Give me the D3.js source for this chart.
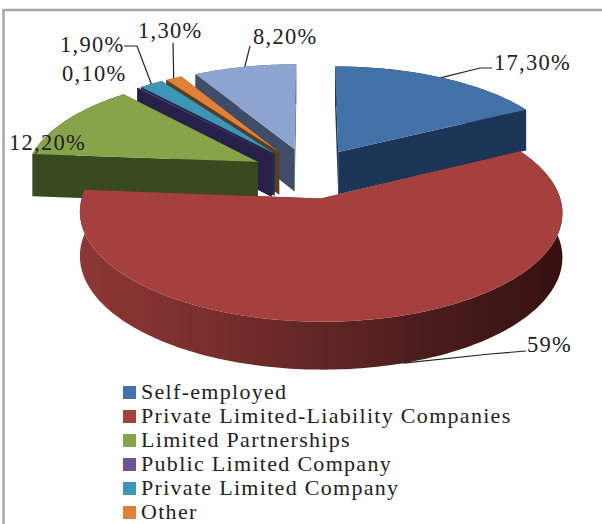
<!DOCTYPE html>
<html>
<head>
<meta charset="utf-8">
<script src="https://cdn.jsdelivr.net/npm/d3@7/dist/d3.min.js"></script>
<style>
html,body{margin:0;padding:0;background:#fff}
svg{display:block}
text{font-family:"Liberation Serif","Times New Roman",serif;fill:#222}
</style>
</head>
<body>
<svg id="chart" width="602" height="524"></svg>
<script>
// Legal forms of enterprises, share in percent
const legendNames = ["Self-employed","Private Limited-Liability Companies","Limited Partnerships","Public Limited Company","Private Limited Company","Other"];
const shares = [17.3, 59, 12.2, 0.1, 1.9, 1.3, 8.2];
const valueLabels = ["17,30%","59%","12,20%","0,10%","1,90%","1,30%","8,20%"];
const topColors = ["#4272a8","#a5403e","#87a44b","#6f5296","#3d96b5","#e0813a","#8ca4cf"];
const wallColors = ["#1d3658","#6e2a29","#3a4a20","#282048","#1f2c4e","#5c3c22","#3f4d68"];

const W = 602, H = 524;
const svg = d3.select("#chart");

// Perspective ground plane for the tilted pie
const view = {cx: 309, cy: 173, rx: 232, ry: 101, k: 0.124, depth: 43, explode: 0.25};
const persp = y => 1 / (1 + view.k * y);
const project = (x, y) => {
  const s = persp(y);
  return [view.cx + view.rx * x * s, view.cy - view.ry * y * s];
};
const drop = ([px, py], y) => [px, py + view.depth * Math.pow(persp(y), 0.65)];

const arcs = d3.pie().sort(null).value(d => d)(shares).map((a, i) => {
  const mid = (a.startAngle + a.endAngle) / 2;
  return {i, a0: a.startAngle, a1: a.endAngle, mid,
          ox: view.explode * Math.sin(mid), oy: view.explode * Math.cos(mid)};
});

const rimPoint = (d, ang) => ({x: d.ox + Math.sin(ang), y: d.oy + Math.cos(ang)});
const rimSamples = d => {
  const n = Math.max(2, Math.ceil((d.a1 - d.a0) / 0.02));
  return d3.range(n + 1).map(j => rimPoint(d, d.a0 + (d.a1 - d.a0) * j / n));
};
const line = d3.line();
const topPts = p => project(p.x, p.y);
const botPts = p => drop(project(p.x, p.y), p.y);
const quad = (p, q) => line([topPts(p), topPts(q), botPts(q), botPts(p)]) + "Z";

// Shaded rim of the big slice, dark towards the right
const defs = svg.append("defs");
const rim = defs.append("linearGradient").attr("id", "rimShade").attr("gradientUnits", "userSpaceOnUse")
  .attr("x1", 80).attr("x2", 560).attr("y1", 0).attr("y2", 0);
[[0, "#8c3734"], [0.28, "#782e2c"], [0.55, "#5c2423"], [0.72, "#4a1d1c"], [1, "#361110"]]
  .forEach(([o, c]) => rim.append("stop").attr("offset", o).attr("stop-color", c));

// Frame on the top and left
svg.append("path").attr("d", line([[3.5, H], [3.5, 10], [W, 10]]))
  .attr("fill", "none").attr("stroke", "#a8a8a8").attr("stroke-width", 2.5);

const paintOrder = [6, 5, 4, 3, 2, 0, 1];
const pie = svg.append("g");
paintOrder.forEach(i => {
  const d = arcs[i];
  const apex = {x: d.ox, y: d.oy};
  const rimPts = rimSamples(d);
  const g = pie.append("g").attr("class", "slice");
  g.append("path").attr("d", quad(apex, rimPts[rimPts.length - 1])).attr("fill", wallColors[i]);
  g.append("path").attr("d", quad(apex, rimPts[0])).attr("fill", wallColors[i]);
  const outer = line(rimPts.map(topPts).concat(rimPts.slice().reverse().map(botPts))) + "Z";
  g.append("path").attr("d", outer).attr("fill", i === 1 ? "url(#rimShade)" : wallColors[i]);
  g.append("path").attr("d", line([topPts(apex)].concat(rimPts.map(topPts))) + "Z").attr("fill", topColors[i]);
});

// Value labels with their leader lines, positioned per slice
const labelLayout = [
  {x: 494, y: 70, elbow: [[480, 68], [492, 68]], at: 0.5},
  {x: 527, y: 352, elbow: [[490, 354], [526, 351]], at: 0.473},
  {x: 9, y: 150},
  {x: 62, y: 81},
  {x: 60, y: 52, elbow: [[137, 46], [124, 46]], at: 0.5},
  {x: 138, y: 38, elbow: [[173, 43]], at: 0.5},
  {x: 253, y: 44, elbow: [[250, 46]], at: 0.5}
];
const labels = svg.append("g");
labelLayout.forEach((l, i) => {
  const d = arcs[i];
  if (l.elbow) {
    const ang = d.a0 + (d.a1 - d.a0) * l.at;
    const p = rimPoint(d, ang);
    const start = i === 1 ? botPts(p) : topPts(p);
    labels.append("path").attr("d", line([start].concat(l.elbow)))
      .attr("fill", "none").attr("stroke", "#222").attr("stroke-width", 1.2);
  }
  labels.append("text").attr("x", l.x).attr("y", l.y)
    .attr("font-size", 22.5).attr("letter-spacing", 1.25).text(valueLabels[i]);
});

// Legend rows, spaced evenly down to the page edge
const legendY = d3.scalePoint().domain(d3.range(legendNames.length)).range([392.5, 512.5]);
const legend = svg.append("g");
legendNames.forEach((name, i) => {
  const y = legendY(i);
  legend.append("rect").attr("x", 123).attr("y", y - 6.5).attr("width", 13).attr("height", 13).attr("fill", topColors[i]);
  legend.append("text").attr("x", 141).attr("y", y + 6.5)
    .attr("font-size", 22).attr("letter-spacing", 1.3).text(name);
});
</script>
</body>
</html>
